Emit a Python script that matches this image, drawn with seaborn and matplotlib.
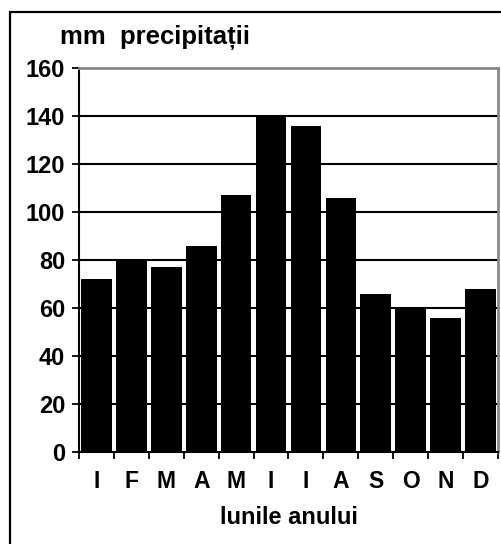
import matplotlib
matplotlib.use("Agg")
import matplotlib.pyplot as plt
import seaborn as sns
import pandas as pd
from matplotlib.patches import Rectangle
from matplotlib.ticker import FixedLocator

months = ["Ian", "Feb", "Mar", "Apr", "Mai", "Iun", "Iul", "Aug", "Sep", "Oct", "Noi", "Dec"]
month_letters = ["I", "F", "M", "A", "M", "I", "I", "A", "S", "O", "N", "D"]
precip = [72, 80, 77, 86, 107, 140, 136, 106, 66, 60, 56, 68]
yticks = [0, 20, 40, 60, 80, 100, 120, 140, 160]

sns.set_theme(style="white")
plt.rcParams['font.family'] = ['Liberation Sans', 'DejaVu Sans']

fig = plt.figure(figsize=(5.02, 5.44), dpi=100)
ax = fig.add_axes([79/502, 1-452/544, (498-79)/502, (452-68)/544])

df = pd.DataFrame({"luna": months, "mm": precip})
sns.barplot(data=df, x="luna", y="mm", order=months, color="black",
            width=0.88, saturation=1, ax=ax, zorder=3, edgecolor="black", linewidth=0)

ax.set_ylim(0, 160)
ax.set_xlim(-0.5, 11.5)
ax.set_yticks(yticks)
ax.set_yticklabels([str(v) for v in yticks], fontsize=17, fontweight="bold", color="black")
ax.set_xticks(range(len(months)))
ax.set_xticklabels(month_letters, fontsize=16.5, fontweight="bold", color="black")
ax.xaxis.set_minor_locator(FixedLocator([i - 0.5 for i in range(len(months) + 1)]))
ax.tick_params(axis="x", which="major", length=0, pad=13)
ax.tick_params(axis="x", which="minor", length=5, width=1.3, color="black", direction="out", bottom=True)
ax.tick_params(axis="y", length=5, width=1.3, color="black", direction="out", left=True, pad=5)

for v in yticks[1:-1]:
    ax.axhline(v, color="black", lw=1.5, zorder=1)

ax.set_xlabel("lunile anului", fontsize=17, fontweight="bold", color="black", labelpad=9)
ax.set_ylabel("")

for s in ["left", "bottom"]:
    ax.spines[s].set_color("black")
    ax.spines[s].set_linewidth(1.5)
for s in ["top", "right"]:
    ax.spines[s].set_color("#8a8a8a")
    ax.spines[s].set_linewidth(2)
ax.set_facecolor("white")

fig.text(60/502, 1-38/544, "mm  precipitații", fontsize=18.5, fontweight="bold",
         ha="left", va="center", color="black")

fig.patches.append(Rectangle((10/502, -0.05), 1.2, 0.05 + 1 - 12/544, transform=fig.transFigure,
                             fill=False, edgecolor="black", lw=1.6, zorder=0))

fig.savefig("out.png", dpi=100, facecolor="white")
